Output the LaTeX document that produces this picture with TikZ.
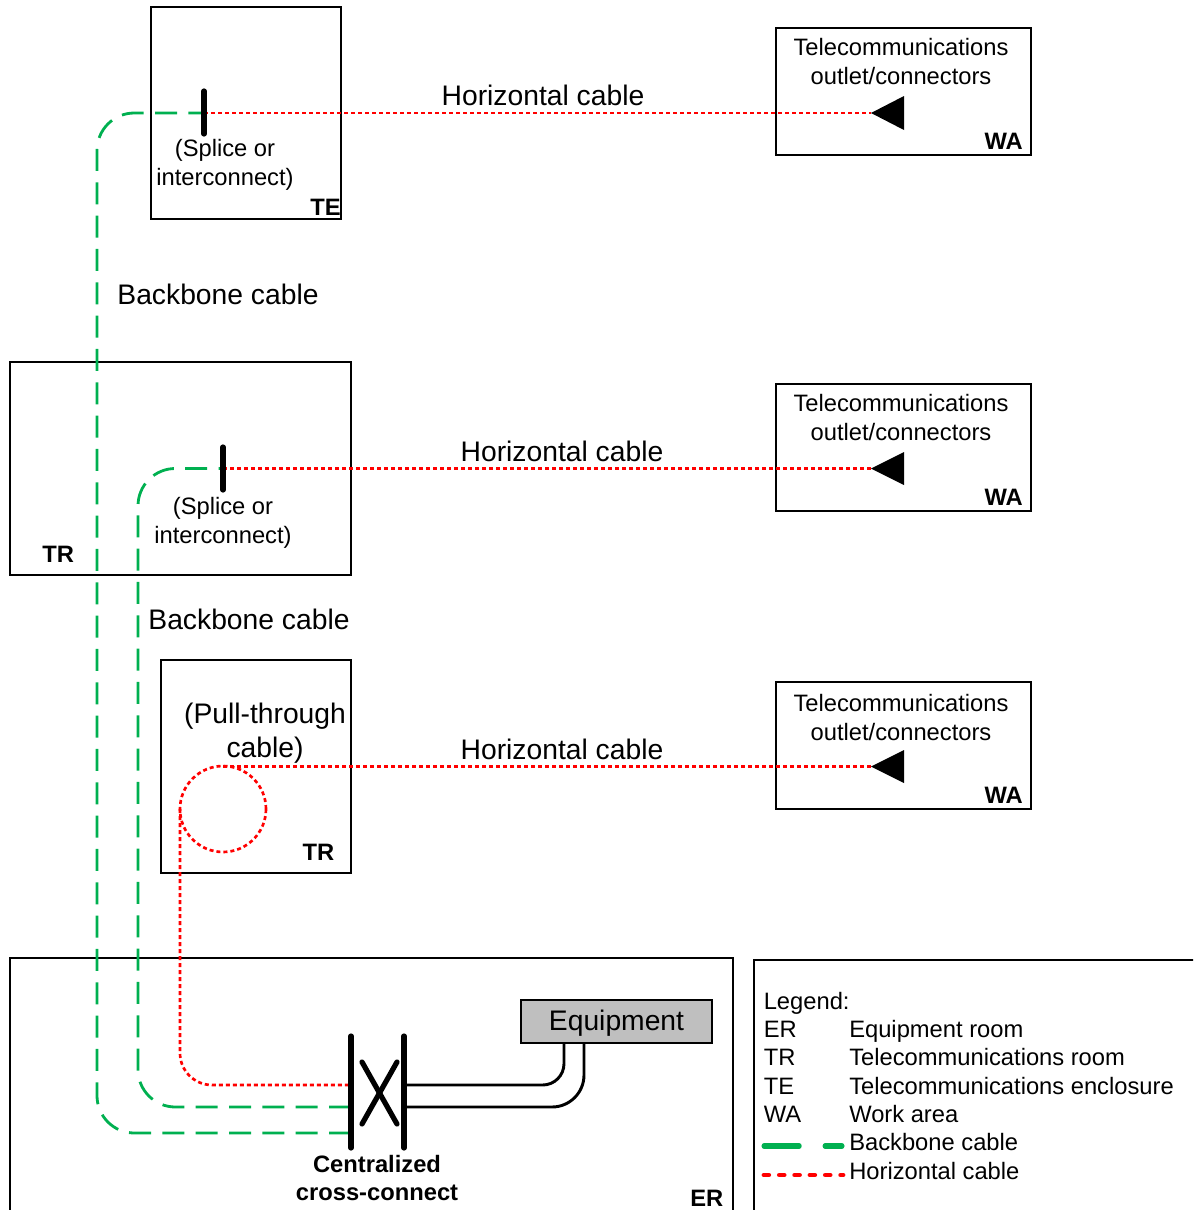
\documentclass[tikz,border=0pt]{standalone}
\usepackage{fontspec}
\setmainfont{Liberation Sans}
\definecolor{bbgreen}{RGB}{0,176,80}
\tikzset{
  roombox/.style={draw=black,line width=1pt,inner sep=0pt,outer sep=0pt},
  small/.style={font=\fontsize{17.8}{21.4}\selectfont,inner sep=0pt,align=center,text height=12.7pt,text depth=0pt},
  smallml/.style={font=\fontsize{17.8}{21.6}\selectfont,inner sep=0pt,align=center},
  large/.style={font=\fontsize{21.2}{25.5}\selectfont,inner sep=0pt,align=center,text height=15.2pt,text depth=0pt},
  largeml/.style={font=\fontsize{21.2}{25.5}\selectfont,inner sep=0pt,align=center},
  tag/.style={font=\fontsize{17.8}{21}\selectfont\bfseries,inner sep=0pt,text height=12.7pt,text depth=0pt},
  backbone/.style={draw=bbgreen,line width=2.1pt,dash pattern=on 16.5pt off 8.5pt,rounded corners=28pt},
  horiz/.style={draw=red,line width=2pt,dash pattern=on 3pt off 2.25pt},
  barline/.style={draw=black,line width=3.9pt,line cap=round},
  wire/.style={draw=black,line width=2.2pt},
  outlet/.style={fill=black,draw=none},
}
\begin{document}
\begin{tikzpicture}[x=0.75pt,y=-0.75pt]
\useasboundingbox (0,0) rectangle (1193,1210);
\clip (0,0) rectangle (1193,1210);
% rooms
\node[roombox,minimum width=190*0.75pt,minimum height=212*0.75pt] (te) at (246,113) {};
\node[roombox,minimum width=341*0.75pt,minimum height=213*0.75pt] (tra) at (180.5,468.5) {};
\node[roombox,minimum width=190*0.75pt,minimum height=213*0.75pt] (trb) at (256,766.5) {};
\node[roombox,minimum width=723*0.75pt,minimum height=300*0.75pt] (er) at (371.5,1108) {};
\node[roombox,minimum width=500*0.75pt,minimum height=300*0.75pt] (legend) at (1004,1110) {};
\node[roombox,minimum width=255*0.75pt,minimum height=127*0.75pt] (waa) at (903.5,91.5) {};
\node[roombox,minimum width=255*0.75pt,minimum height=127*0.75pt] (wab) at (903.5,447.5) {};
\node[roombox,minimum width=255*0.75pt,minimum height=127*0.75pt] (wac) at (903.5,745.5) {};
\node[roombox,fill=black!25,minimum width=191*0.75pt,minimum height=43*0.75pt] (equip) at (616.5,1021.5) {};
% anchor points
\coordinate (spa) at (204,113);
\coordinate (spb) at (223,468.5);
\coordinate (ppc) at (223,766.5);
\coordinate (outa) at (871,113);
\coordinate (outb) at (871,468.5);
\coordinate (outc) at (871,766.5);
\coordinate (xa) at (351,1085);
\coordinate (xb) at (351,1107);
\coordinate (xc) at (351,1133);
\coordinate (xd) at (404,1085);
\coordinate (xe) at (404,1107);
\coordinate (eqa) at (564,1043);
\coordinate (eqb) at (584,1043);
\coordinate (ringc) at (223,809);
\coordinate (ringw) at (180,809);
% cables
\draw[backbone] (xc) -- (97,1133) -- (97,113) -- (spa);
\draw[backbone] (xb) -- (138,1107) -- (138,468.5) -- (spb);
\draw[horiz] (spa) -- (outa);
\draw[horiz] (spb) -- (outb);
\draw[horiz] (ppc) -- (outc);
\draw[horiz] (ringc) circle[radius=43*0.75pt];
\draw[horiz,rounded corners=24pt] (ringw) -- (180,1085) -- (xa);
% bars
\draw[barline] (204,91) -- (204,134);
\draw[barline] (223,447) -- (223,490);
\draw[barline] (351,1036) -- (351,1148);
\draw[barline] (404,1036) -- (404,1148);
\draw[barline] (362,1062) -- (397,1124);
\draw[barline] (397,1062) -- (362,1124);
% wires
\draw[wire,rounded corners=16pt] (xd) -- (564,1085) -- (eqa);
\draw[wire,rounded corners=24pt] (xe) -- (584,1107) -- (eqb);
% outlets
\fill[outlet] (outa) -- (904,96) -- (904,130) -- cycle;
\fill[outlet] (outb) -- (904,452) -- (904,485) -- cycle;
\fill[outlet] (outc) -- (904,750) -- (904,783) -- cycle;
% texts
\node[smallml] (ta) at (901,61.5) {Telecommunications\\outlet/connectors};
\node[smallml] (tb) at (901,417.5) {Telecommunications\\outlet/connectors};
\node[smallml] (tc) at (901,717.5) {Telecommunications\\outlet/connectors};
\node[large] (ha) at (543,95) {Horizontal cable};
\node[large] (hb) at (562,451) {Horizontal cable};
\node[large] (hc) at (562,749) {Horizontal cable};
\node[smallml] (sa) at (225,165) {(Splice or\\interconnect)};
\node[smallml] (sb) at (223,523) {(Splice or\\interconnect)};
\node[large] (ba) at (218,294) {Backbone cable};
\node[large] (bb) at (249,619) {Backbone cable};
\node[largeml] (pt) at (265,733) {(Pull-through\\cable)};
\node[large] (eqt) at (616.5,1020) {Equipment};
\node[tag,anchor=east] (tte) at (341,207) {TE};
\node[tag,anchor=west] (ttra) at (42,554) {TR};
\node[tag,anchor=east] (ttrb) at (334.5,852) {TR};
\node[tag,anchor=east] (twa) at (1023,141) {WA};
\node[tag,anchor=east] (twb) at (1023,497) {WA};
\node[tag,anchor=east] (twc) at (1023,795) {WA};
\node[tag,anchor=east] (ter) at (723.5,1198) {ER};
\node[tag] (cca) at (377,1164) {Centralized};
\node[tag] (ccb) at (377,1192) {cross-connect};
% legend
\node[small,anchor=west] (l0) at (763.5,1001) {Legend:};
\node[small,anchor=west] (l1) at (763.5,1029) {ER};
\node[small,anchor=west] (l2) at (763.5,1057) {TR};
\node[small,anchor=west] (l3) at (763.5,1086) {TE};
\node[small,anchor=west] (l4) at (763.5,1114) {WA};
\node[small,anchor=west] (d1) at (849,1029) {Equipment room};
\node[small,anchor=west] (d2) at (849,1057) {Telecommunications room};
\node[small,anchor=west] (d3) at (849,1086) {Telecommunications enclosure};
\node[small,anchor=west] (d4) at (849,1114) {Work area};
\node[small,anchor=west] (d5) at (849,1142) {Backbone cable};
\node[small,anchor=west] (d6) at (849,1171) {Horizontal cable};
\coordinate (lga) at (764,1146);
\coordinate (lgb) at (842,1146);
\coordinate (lra) at (764,1175);
\coordinate (lrb) at (843,1175);
\draw[draw=bbgreen,line width=3.8pt,line cap=round,dash pattern=on 26.4pt off 19.4pt] (lga) -- (lgb);
\draw[draw=red,line width=3.6pt,line cap=round,dash pattern=on 3.6pt off 7.9pt] (lra) -- (lrb);
\end{tikzpicture}
\end{document}
